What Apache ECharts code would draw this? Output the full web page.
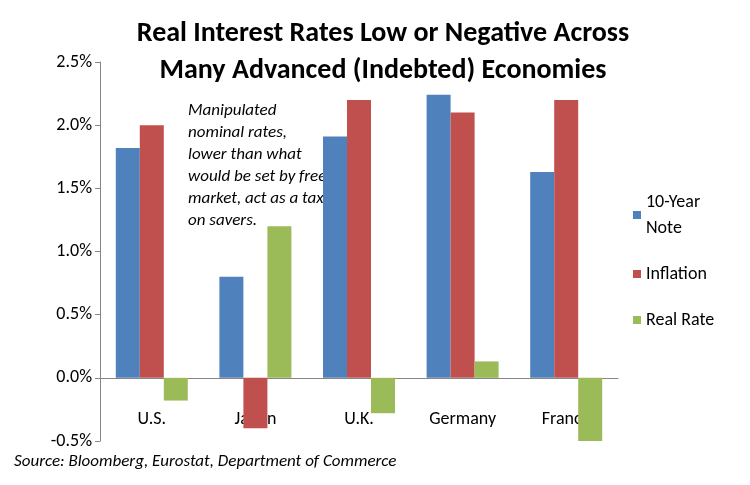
<!DOCTYPE html>
<html><head><meta charset="utf-8">
<script src="https://cdn.jsdelivr.net/npm/echarts@6/dist/echarts.min.js"></script>
<style>html,body{margin:0;padding:0;background:#fff}#c{width:750px;height:485px}</style>
</head><body><div id="c"></div>
<script>
const categories = ["U.S.", "Japan", "U.K.", "Germany", "France"];
const tenYear = [1.82, 0.80, 1.91, 2.24, 1.63];
const inflation = [2.00, -0.40, 2.20, 2.10, 2.20];
const realRate = [-0.18, 1.20, -0.28, 0.13, -0.51];
const seriesNames = ["10-Year\nNote", "Inflation", "Real Rate"];
const colors = ["#4F81BD", "#C0504D", "#9BBB59"];
const font = "Calibri, Carlito, 'Liberation Sans', Arial, sans-serif";

const chart = echarts.init(document.getElementById('c'));
chart.setOption({
  animation: false,
  color: colors,
  title: {
    text: "Real Interest Rates Low or Negative Across\nMany Advanced (Indebted) Economies",
    left: 378, top: 10, textAlign: 'center',
    textStyle: {fontFamily: font, fontSize: 28, fontWeight: 'bold', color: '#000', lineHeight: 37}
  },
  legend: {
    orient: 'vertical', left: 628, top: 184, itemGap: 20,
    itemWidth: 8, itemHeight: 8, icon: 'rect',
    textStyle: {fontFamily: font, fontSize: 18, color: '#000', lineHeight: 26},
    data: seriesNames
  },
  grid: {left: 100, right: 132, top: 62, bottom: 44},
  xAxis: {
    type: 'category', data: categories,
    axisLine: {onZero: true, lineStyle: {color: '#868686'}},
    axisTick: {show: false},
    axisLabel: {fontFamily: font, fontSize: 18, color: '#000', margin: -31}
  },
  yAxis: {
    type: 'value', min: -0.5, max: 2.5, interval: 0.5,
    axisLine: {show: true, lineStyle: {color: '#868686'}},
    axisTick: {show: true, length: 5},
    splitLine: {show: false},
    axisLabel: {fontFamily: font, fontSize: 18, color: '#000', formatter: v => v.toFixed(1) + '%'}
  },
  graphic: [
    {type: 'text', left: 188, top: 100, style: {
      text: "Manipulated\nnominal rates,\nlower than what\nwould be set by free\nmarket, act as a tax\non savers.",
      font: "italic 17px " + font, fill: '#000', lineHeight: 22}},
    {type: 'text', left: 14, top: 453, style: {
      text: "Source: Bloomberg, Eurostat, Department of Commerce",
      font: "italic 17px " + font, fill: '#000'}}
  ],
  series: [
    {name: seriesNames[0], type: 'bar', data: tenYear, barWidth: 24, barGap: '0%'},
    {name: seriesNames[1], type: 'bar', data: inflation, barWidth: 24, barGap: '0%'},
    {name: seriesNames[2], type: 'bar', data: realRate, barWidth: 24, barGap: '0%'}
  ]
});
</script></body></html>
